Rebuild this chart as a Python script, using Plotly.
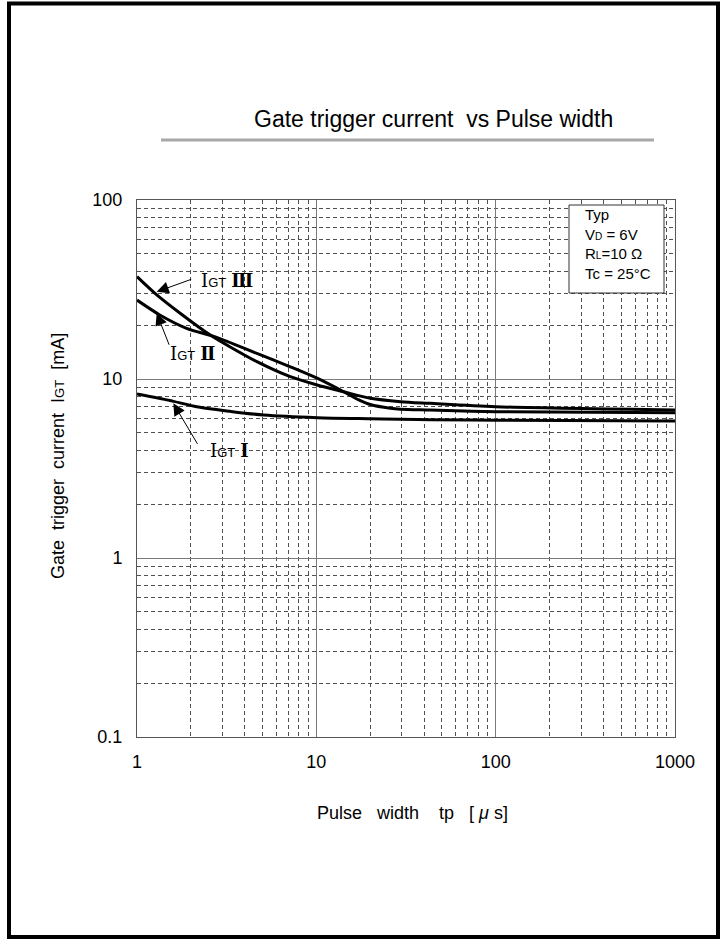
import plotly.graph_objects as go
import math

# ---------------- data ----------------
tp_I = [1, 1.6, 2.15, 3.3, 5.08, 10.1, 20, 29.5, 43, 100, 1000]
igt_I = [8.24, 7.5, 7.0, 6.6, 6.29, 6.08, 6.0, 5.96, 5.92, 5.88, 5.82]

tp_II = [1, 1.34, 1.89, 2.73, 4.66, 7.16, 10.1, 14.2, 17, 20, 25.9, 29.5, 43, 100, 1000]
igt_II = [27.6, 22.8, 19.2, 17.2, 13.9, 11.7, 10.1, 8.49, 7.7, 7.2, 6.86, 6.78, 6.71, 6.57, 6.48]

tp_III = [1, 1.26, 1.74, 2.56, 3.31, 4.66, 7.16, 10.1, 14.2, 20, 29.5, 43, 100, 1000]
igt_III = [37.3, 30.1, 23.3, 17.6, 15.1, 12.5, 10.3, 9.26, 8.49, 7.8, 7.47, 7.31, 7.0, 6.71]

x_tickvals = [1, 10, 100, 1000]
x_ticktext = ["1", "10", "100", "1000"]
y_tickvals = [0.1, 1, 10, 100]
y_ticktext = ["0.1", "1", "10", "100"]

curve_labels = ["Ⅰ", "Ⅱ", "Ⅲ"]
# arrow tips (tp, IGT) pointing at each curve
label_tips = [(1.595, 7.31), (1.288, 23.3), (1.288, 30.7)]

cond_lines = ["Typ",
              "V<span style='font-size:10px'>D</span> = 6V",
              "R<span style='font-size:10px'>L</span>=10 Ω",
              "Tc = 25°C"]

FONT = "Liberation Sans, Arial, sans-serif"
SERIF = "DejaVu Serif"

# ---------------- figure ----------------
W, H = 723, 942
L, R, T, B = 137, 48, 200, 205
pw, ph = W - L - R, H - T - B


def px2paper(px, py):
    return (px - L) / pw, (H - B - py) / ph


fig = go.Figure()
for xs, ys in [(tp_I, igt_I), (tp_II, igt_II), (tp_III, igt_III)]:
    fig.add_trace(go.Scatter(x=xs, y=ys, mode="lines",
                             line=dict(color="black", width=3, shape="spline", smoothing=0.8),
                             showlegend=False, hoverinfo="skip"))

axis_common = dict(
    type="log", showline=True, linecolor="#555", linewidth=1, mirror=True,
    showgrid=True, gridcolor="#7a7a7a", gridwidth=1, ticks="", zeroline=False,
    tickfont=dict(family=FONT, size=18, color="black"),
    minor=dict(dtick="D1", showgrid=True, gridcolor="#505050", gridwidth=1, griddash="4px,3px", ticks=""),
)
fig.update_xaxes(range=[0, 3], tickvals=x_tickvals, ticktext=x_ticktext,
                 ticklabelstandoff=8, **axis_common)
fig.update_yaxes(range=[-1, 2], tickvals=y_tickvals, ticktext=y_ticktext,
                 ticklabelstandoff=10, **axis_common)

annotations = []
# title
tx, ty = px2paper(434, 119)
annotations.append(dict(x=tx, y=ty, xref="paper", yref="paper", showarrow=False,
                        text="Gate trigger current\u00a0\u00a0vs Pulse width",
                        font=dict(family=FONT, size=23, color="black"),
                        xanchor="center", yanchor="middle"))
# axis titles
xx, xy = px2paper(412, 813)
annotations.append(dict(x=xx, y=xy, xref="paper", yref="paper", showarrow=False,
                        text="Pulse\u00a0\u00a0\u00a0width\u00a0\u00a0\u00a0\u00a0tp\u00a0\u00a0\u00a0[\u00a0<i>μ</i>\u00a0s]",
                        font=dict(family=FONT, size=18, color="black"),
                        xanchor="center", yanchor="middle"))
yx, yy = px2paper(58, 456)
annotations.append(dict(x=yx, y=yy, xref="paper", yref="paper", showarrow=False, textangle=-90,
                        text="Gate\u00a0\u00a0trigger\u00a0\u00a0current\u00a0\u00a0I<span style='font-size:13px'>GT</span>\u00a0\u00a0[mA]",
                        font=dict(family=FONT, size=18, color="black"),
                        xanchor="center", yanchor="middle"))
# curve labels: separate arrow (tail offset in px) and text (centre in px)
arrow_tails = [(25, 42), (13, 33), (36, -13)]
text_centres = [(229, 450), (192, 353), (227, 280)]
for num, (tx_, ty_), (ox, oy), (cxp, cyp) in zip(curve_labels, label_tips, arrow_tails, text_centres):
    annotations.append(dict(
        x=math.log10(tx_), y=math.log10(ty_), xref="x", yref="y",
        ax=ox, ay=oy, axref="pixel", ayref="pixel", text="",
        showarrow=True, arrowhead=2, arrowsize=2.4, arrowwidth=1, arrowcolor="black"))
    lx, ly = px2paper(cxp, cyp)
    annotations.append(dict(
        x=lx, y=ly, xref="paper", yref="paper", showarrow=False,
        xanchor="center", yanchor="middle",
        text=("<span style='font-family:\"%s\"'>I</span><span style='font-size:13px'>GT</span>"
              "\u00a0<span style='font-family:\"%s\";font-weight:bold'>%s</span>") % (SERIF, SERIF, num),
        font=dict(family=FONT, size=18, color="black")))
# condition box text
cx, cy = px2paper(583, 244)
annotations.append(dict(x=cx, y=cy, xref="paper", yref="paper", showarrow=False,
                        text="<br>".join(cond_lines), align="left",
                        font=dict(family=FONT, size=15, color="black"),
                        xanchor="left", yanchor="middle"))

shapes = []
# condition box
bx0, by0 = px2paper(569, 293)
bx1, by1 = px2paper(664, 205)
shapes.append(dict(type="rect", xref="paper", yref="paper", x0=bx0, y0=by0, x1=bx1, y1=by1,
                   fillcolor="white", line=dict(color="#333", width=1), layer="above"))
# title underline
ux0, uy = px2paper(161, 140)
ux1, _ = px2paper(654, 140)
shapes.append(dict(type="line", xref="paper", yref="paper", x0=ux0, x1=ux1, y0=uy, y1=uy,
                   line=dict(color="#a8a8a8", width=3)))
# page frame
fx0, fy0 = px2paper(9, 937)
fx1, fy1 = px2paper(718, 3.5)
shapes.append(dict(type="rect", xref="paper", yref="paper", x0=fx0, y0=fy0, x1=fx1, y1=fy1,
                   line=dict(color="black", width=4)))

fig.update_layout(
    width=W, height=H, margin=dict(l=L, r=R, t=T, b=B),
    paper_bgcolor="white", plot_bgcolor="white",
    annotations=annotations, shapes=shapes,
    font=dict(family=FONT, color="black"),
)
fig.write_html("out.html", config={"displayModeBar": False},
               post_script="document.body.style.margin='0';document.body.style.overflow='hidden';")
